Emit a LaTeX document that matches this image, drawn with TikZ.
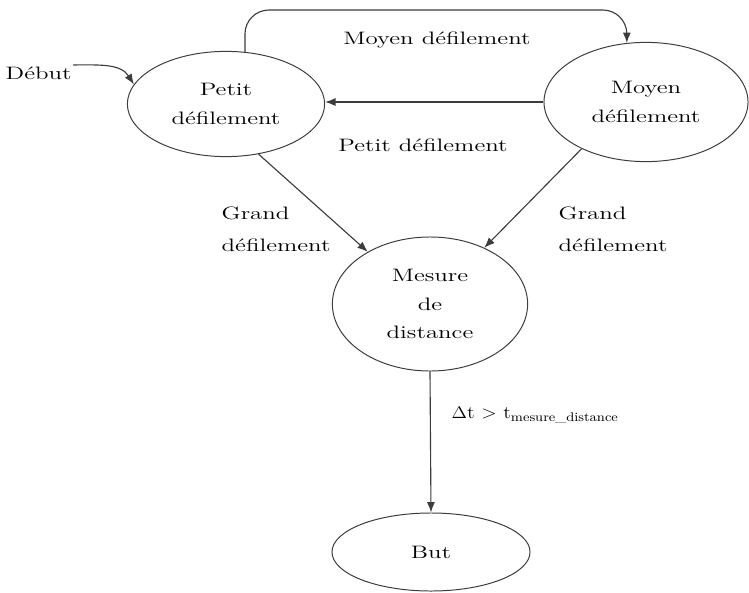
\documentclass[tikz,border=0pt]{standalone}
\usepackage{tikz}
\usetikzlibrary{shapes.geometric, arrows.meta, positioning}
\definecolor{lineink}{RGB}{60, 60, 60}
\newcommand{\etire}[1]{\scalebox{1.38}[1]{#1}}

\begin{document}
\begin{tikzpicture}[
    x=0.025cm, y=0.025cm,
    etat/.style={ellipse, draw=lineink, line width=0.7pt, inner sep=1pt, align=center, font=\fontsize{12.8}{20.2}\selectfont},
    etiquette/.style={inner sep=1pt, font=\fontsize{12.8}{22.5}\selectfont},
    fleche/.style={-{Latex[length=2.6mm, width=2mm]}, draw=lineink, line width=0.8pt}
]
    \useasboundingbox (0,0) rectangle (749,-592);

    % States
    \node[etat, minimum width=4.93cm, minimum height=2.63cm] (petit) at (226,-104) {\etire{Petit}\\\etire{défilement}};
    \node[etat, minimum width=5.1cm, minimum height=2.98cm] (moyen) at (646,-102) {\etire{Moyen}\\\etire{défilement}};
    \node[etat, minimum width=4.88cm, minimum height=3.35cm] (mesure) at (430,-304) {\etire{Mesure}\\\etire{de}\\\etire{distance}};
    \node[etat, minimum width=4.95cm, minimum height=1.95cm] (but) at (431,-552) {\etire{But}};

    % Start
    \node[etiquette, anchor=west] (debut) at (4,-73) {\etire{Début}};
    \draw[fleche] (debut.north east) to[out=0, in=122] (petit.168);

    % Petit -> Moyen (over the top)
    \coordinate (haut) at (437,-10);
    \draw[fleche, rounded corners=0.6cm] (petit.70) |- (haut) -| (moyen.108);
    \node[etiquette] (lmoyen) at (437,-40) {\etire{Moyen défilement}};

    % Moyen -> Petit
    \draw[fleche] (moyen.west) -- (moyen.west -| petit.east);
    \node[etiquette] (lpetit) at (423,-145) {\etire{Petit défilement}};

    % Grand défilement
    \draw[fleche] (petit.-57) -- (mesure.140);
    \node[etiquette, anchor=west, align=left] (lgrandg) at (220,-229) {\etire{Grand}\\\etire{défilement}};
    \draw[fleche] (moyen.-144) -- (mesure.46);
    \node[etiquette, anchor=west, align=left] (lgrandd) at (557,-229) {\etire{Grand}\\\etire{défilement}};

    % Mesure -> But
    \draw[fleche] (mesure.south) -- (but.north);
    \node[etiquette, anchor=west] (ldelta) at (450,-415) {\scalebox{1.12}[1]{$\Delta$t > t\textsubscript{mesure\_distance}}};
\end{tikzpicture}
\end{document}
